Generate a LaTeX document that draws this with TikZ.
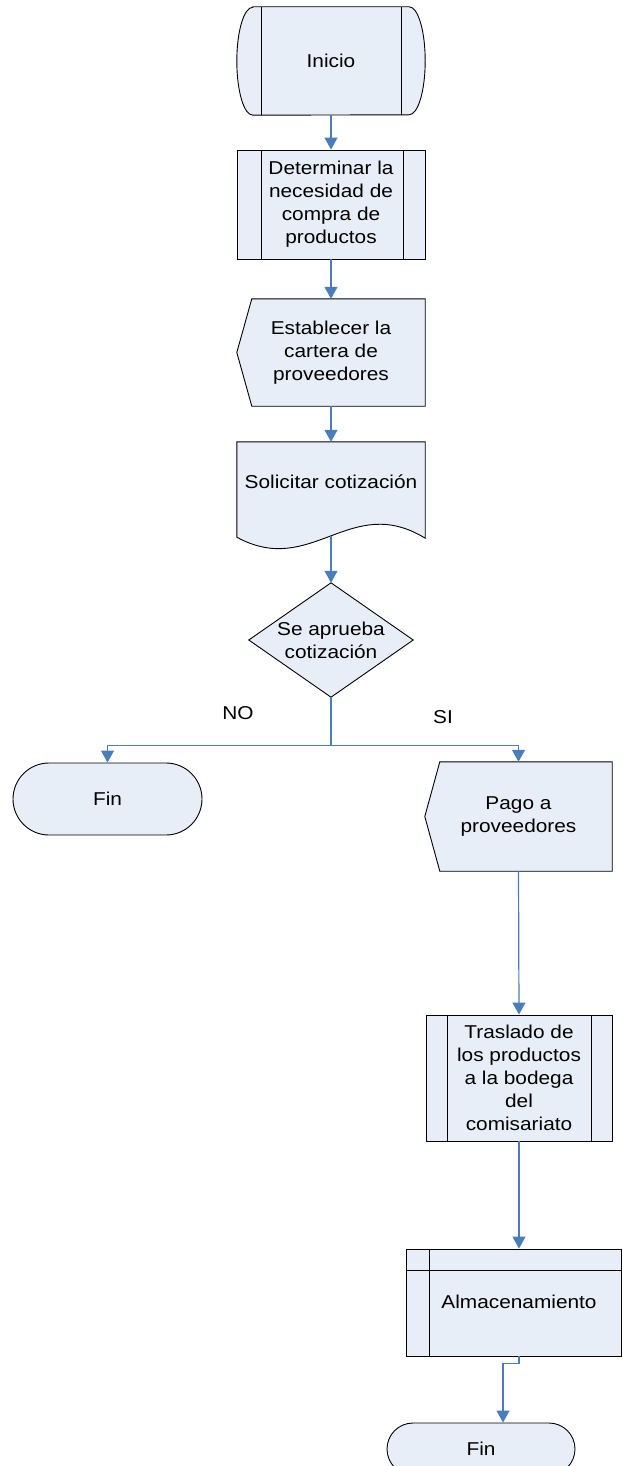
\documentclass[tikz,border=0pt]{standalone}
\usepackage{fontspec}
\setmainfont{Liberation Sans}[FakeStretch=1.12]
\usetikzlibrary{arrows.meta,shapes.misc,backgrounds}
\definecolor{boxfill}{RGB}{232,238,247}
\definecolor{flowblue}{RGB}{74,126,187}
\begin{document}
\begin{tikzpicture}[x=1pt,y=-1pt,
  txt/.style={font=\fontsize{18.6}{23}\selectfont, align=center, inner sep=0pt},
  outline/.style={draw=black, fill=boxfill, line width=0.9pt},
  divider/.style={draw=black, line width=0.9pt},
  conn/.style={draw=flowblue, line width=1.2pt, -{Triangle[width=13pt,length=12pt]}},
]
\useasboundingbox (0,0) rectangle (622,1466);
\clip (0,0) rectangle (622,1466);

% ---- nodes ----
\node[txt, minimum width=188pt, minimum height=108pt] (ini) at (331,61) {Inicio};
\node[txt, outline, minimum width=188pt, minimum height=109pt] (det) at (331,204.5)
  {Determinar la\\necesidad de\\compra de\\productos};
\node[txt, minimum width=188pt, minimum height=107pt] (est) at (331,352.5)
  {Establecer la\\cartera de\\proveedores};
\node[txt, minimum width=188pt, minimum height=80pt] (sol) at (331,482) {Solicitar cotizaci\'on};
\node[txt, minimum width=164pt, minimum height=114pt] (dec) at (331,640) {Se aprueba\\cotizaci\'on};
\node[txt, outline, rounded rectangle, minimum width=189pt, minimum height=72pt] (fin1) at (107.5,799) {Fin};
\node[txt, minimum width=187pt, minimum height=109pt] (pago) at (518.5,816.5) {Pago a\\proveedores};
\node[txt, outline, minimum width=186pt, minimum height=126pt] (tra) at (519,1078)
  {Traslado de\\los productos\\a la bodega\\del\\comisariato};
\node[txt, outline, minimum width=215pt, minimum height=107pt] (alm) at (513.5,1302.5) {};
\node[txt] (almtext) at (519,1302) {Almacenamiento};
\node[txt, outline, rounded rectangle, minimum width=188pt, minimum height=52pt] (fin2) at (481,1449) {Fin};

\node[txt] (no) at (238,713) {NO};
\node[txt] (si) at (443,717) {SI};

% ---- custom outlines ----
\begin{scope}[on background layer]
  % start: flat top/bottom with bulging sides
  \filldraw[outline] ([xshift=16pt]ini.north west) -- ([xshift=-16pt]ini.north east)
    arc[start angle=90, end angle=-90, x radius=16pt, y radius=54pt]
    -- ([xshift=16pt]ini.south west)
    arc[start angle=270, end angle=90, x radius=16pt, y radius=54pt] -- cycle;
  % pointed-left boxes
  \filldraw[outline] ([xshift=15pt]est.north west) -- (est.north east) -- (est.south east)
    -- ([xshift=15pt]est.south west) -- (est.west) -- cycle;
  \filldraw[outline] ([xshift=15pt]pago.north west) -- (pago.north east) -- (pago.south east)
    -- ([xshift=15pt]pago.south west) -- (pago.west) -- cycle;
  % document with wavy bottom
  \filldraw[outline] (sol.north west) -- (sol.north east) -- ([yshift=-16pt]sol.south east)
    .. controls ([shift={(-75pt,30pt)}]sol.south east) and ([shift={(75pt,-56pt)}]sol.south west)
    .. ([yshift=-15pt]sol.south west) -- cycle;
  % decision
  \filldraw[outline] (dec.north) -- (dec.east) -- (dec.south) -- (dec.west) -- cycle;
\end{scope}

% inner dividers
\draw[divider] ([xshift=24.5pt]ini.north west) -- ([xshift=24.5pt]ini.south west);
\draw[divider] ([xshift=-23.5pt]ini.north east) -- ([xshift=-23.5pt]ini.south east);
\draw[divider] ([xshift=25pt]det.north west) -- ([xshift=25pt]det.south west);
\draw[divider] ([xshift=-22pt]det.north east) -- ([xshift=-22pt]det.south east);
\draw[divider] ([xshift=22pt]tra.north west) -- ([xshift=22pt]tra.south west);
\draw[divider] ([xshift=-21pt]tra.north east) -- ([xshift=-21pt]tra.south east);
\draw[divider] ([xshift=24pt]alm.north west) -- ([xshift=24pt]alm.south west);
\draw[divider] ([yshift=-22pt]alm.north west) -- ([yshift=-22pt]alm.north east);

% ---- connectors ----
\draw[conn] (ini.south) -- (det.north);
\draw[conn] (det.south) -- (est.north);
\draw[conn] (est.south) -- (sol.north);
\draw[conn] ([yshift=-14pt]sol.south) -- (dec.north);
\draw[conn] (dec.south) -- ++(0,48) -| (fin1.north);
\draw[conn] (dec.south) -- ++(0,48) -| (pago.north);
\draw[conn] (pago.south) -- (tra.north);
\draw[conn] (tra.south) -- (tra.south |- alm.north);
\draw[conn] (tra.south |- alm.south) -- ++(0,7) -| ([xshift=22pt]fin2.north);
\end{tikzpicture}
\end{document}
